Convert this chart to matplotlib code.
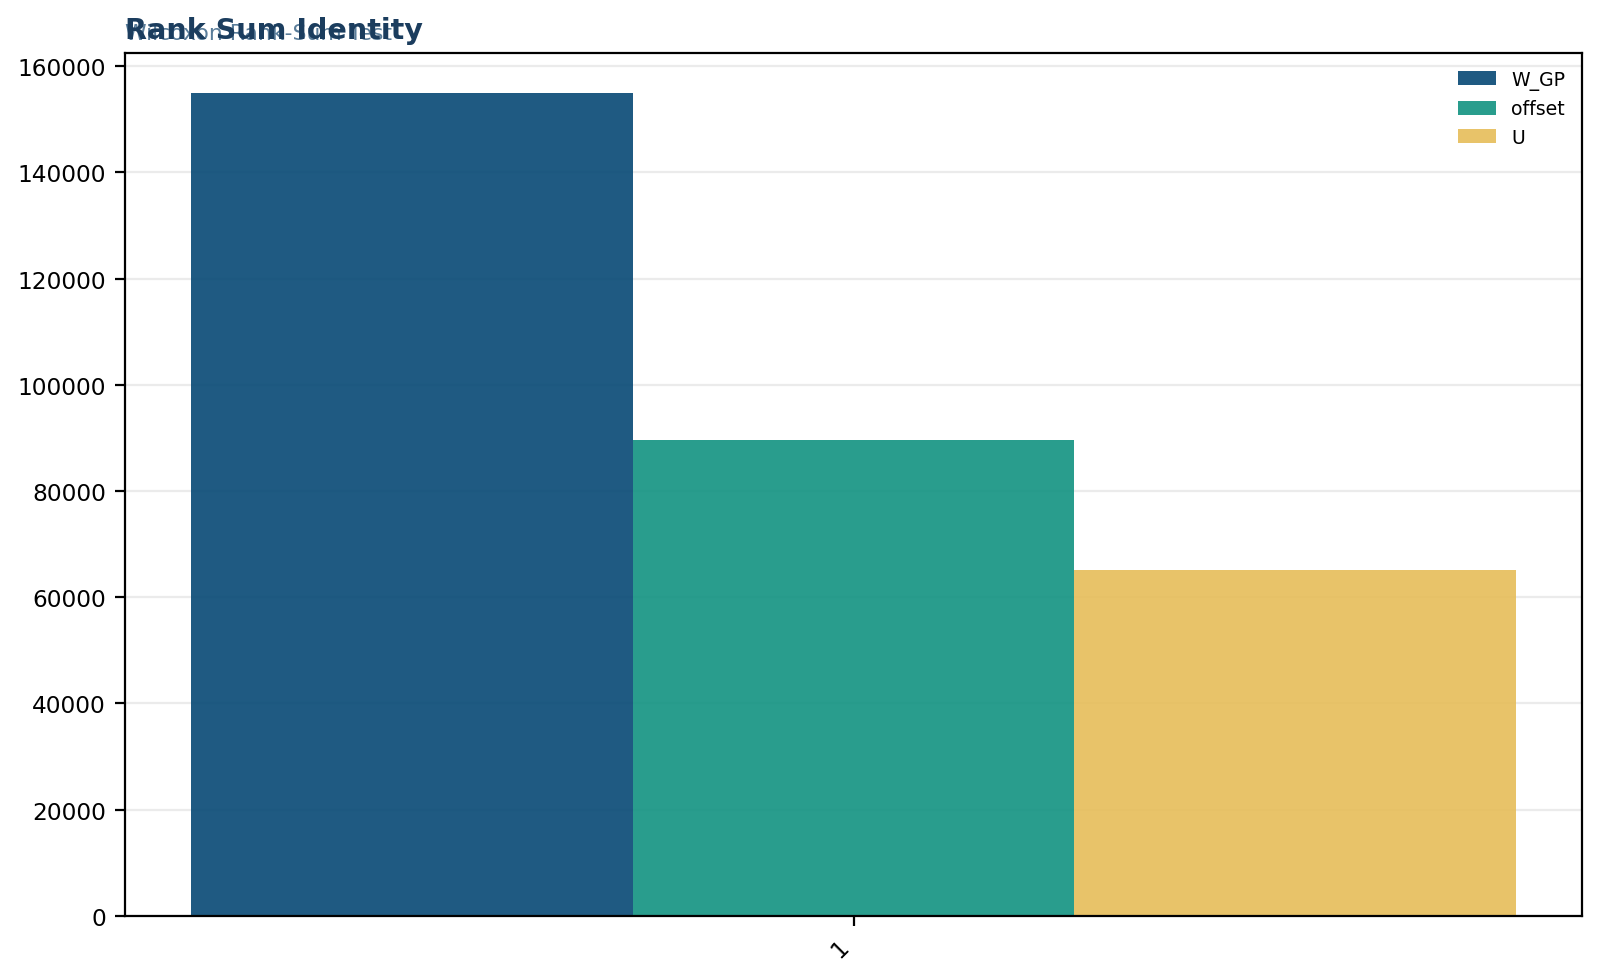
import matplotlib
matplotlib.use("Agg")
import matplotlib.pyplot as plt
import numpy as np

categories = ["1"]
series_names = ["W_GP", "offset", "U"]
w_gp = [155000]
offset = [89600]
u_vals = [65200]
series_values = [w_gp, offset, u_vals]
colors = ["#064874", "#129281", "#e6bd59"]

fig = plt.figure(figsize=(8, 4.89), dpi=200)
ax = fig.add_axes([0.0783, 0.0627, 0.9105, 0.8821])

x = np.arange(len(categories))
n = len(series_names)
group_w = 0.8
bw = group_w / n
for i, (name, vals, c) in enumerate(zip(series_names, series_values, colors)):
    ax.bar(x - group_w / 2 + bw * (i + 0.5), vals, width=bw, color=c, label=name,
           linewidth=0, alpha=0.9)

ax.set_xticks(x)
ax.set_xticklabels(categories, rotation=45, ha="right", fontsize=8.4)
ax.tick_params(axis="y", labelsize=8.4)
ax.set_ylim(0, 162500)
ax.set_yticks(np.arange(0, 160001, 20000))
ax.yaxis.grid(True, color="#ebebeb", linewidth=0.8)
ax.set_axisbelow(True)

leg = ax.legend(loc="upper right", frameon=False, fontsize=6.8, handlelength=2.0,
                handleheight=0.75)

fig.text(125 / 1600, 1 - 40 / 978, "Wilcoxon Rank-Sum Test", fontsize=7.9, color="#5a7d9a",
         ha="left", va="baseline")
fig.text(125 / 1600, 1 - 39 / 978, "Rank Sum Identity", fontsize=10.3, fontweight="bold",
         color="#1b3d5e", ha="left", va="baseline")

fig.savefig("out.png", dpi=200)
